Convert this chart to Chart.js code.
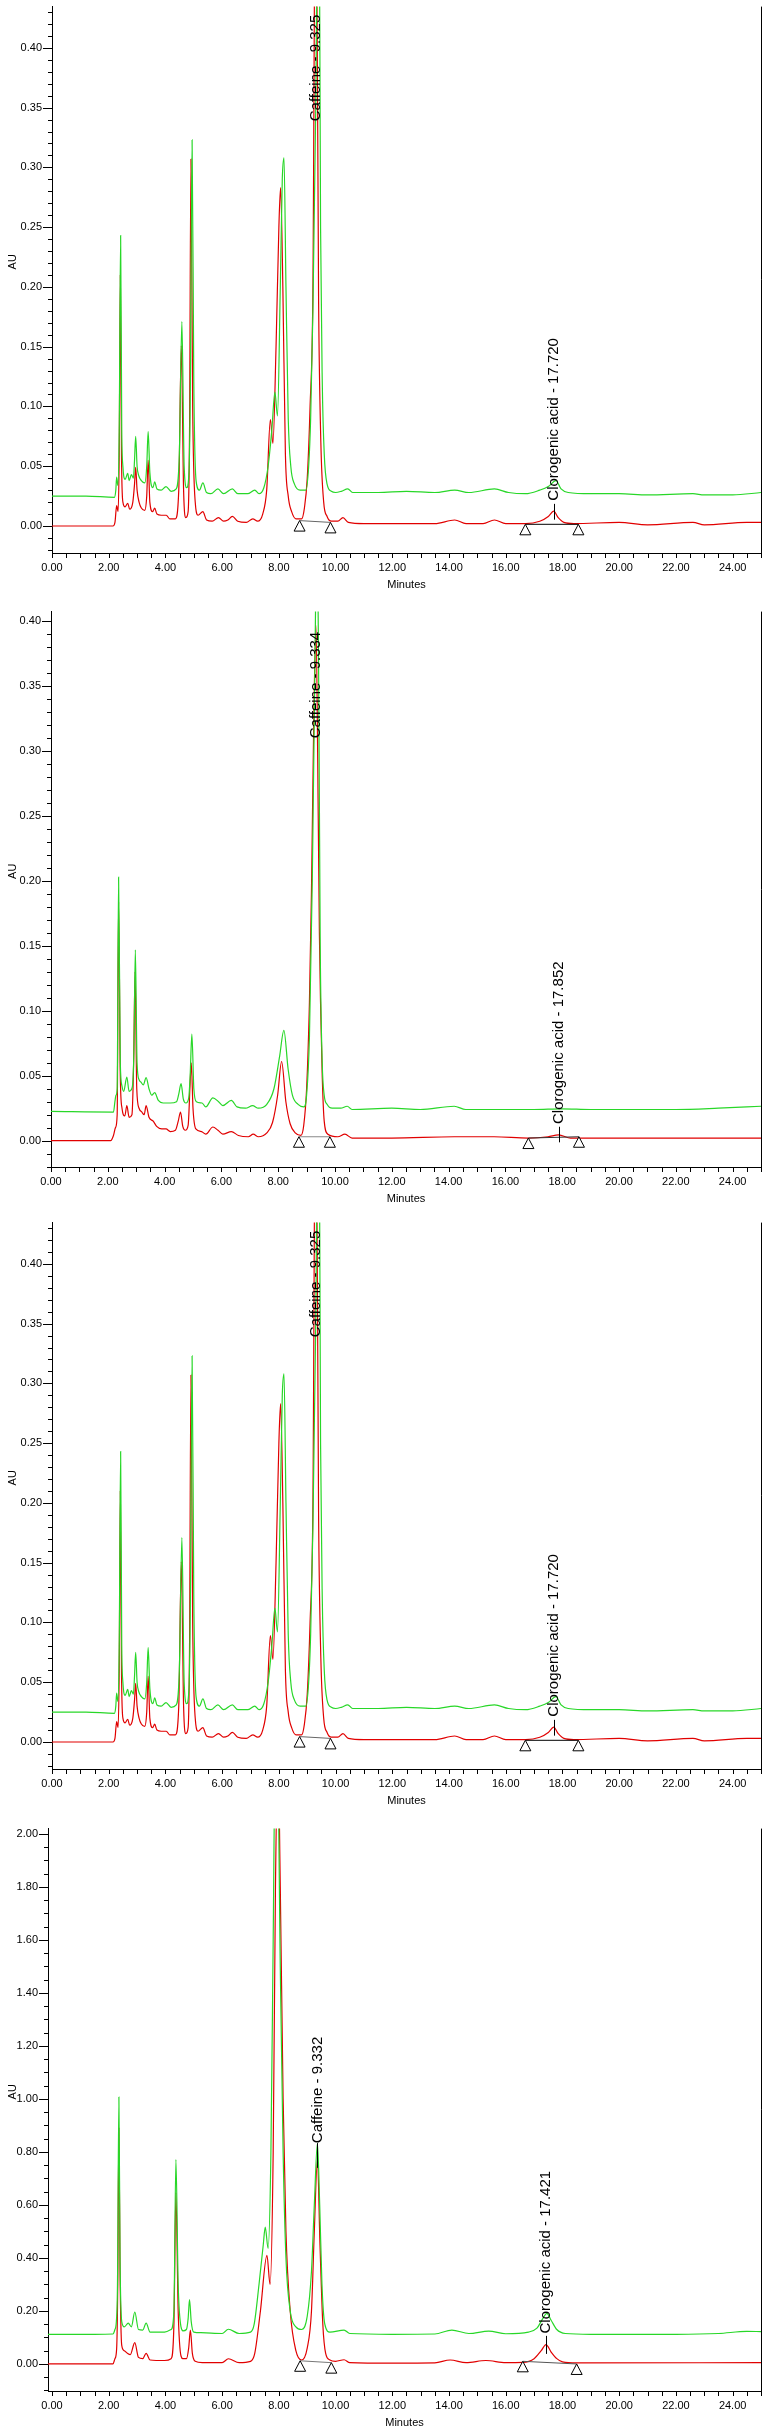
<!DOCTYPE html>
<html>
<head>
<meta charset="utf-8">
<script src="https://cdn.jsdelivr.net/npm/chart.js@4.4.1/dist/chart.umd.min.js"></script>
<style>
  html, body { margin: 0; padding: 0; background: #fff; }
  body { width: 780px; height: 2434px; position: relative; overflow: hidden; }
  canvas { position: absolute; left: 0; }
</style>
</head>
<body>
<canvas id="c1"></canvas>
<canvas id="c2"></canvas>
<canvas id="c3"></canvas>
<canvas id="c4"></canvas>
<script>
// chromatogram traces, [minutes, AU]
// sample A (shown in panels 1 and 3)
const sampleAGreen = [[0,0.025],[1.2,0.025],[2.2,0.024],[2.25,0.03],[2.28,0.041],[2.32,0.034],[2.37,0.08],[2.42,0.243],[2.46,0.08],[2.5,0.05],[2.58,0.039],[2.67,0.044],[2.72,0.038],[2.8,0.043],[2.87,0.04],[2.91,0.055],[2.95,0.075],[3.0,0.05],[3.06,0.042],[3.15,0.038],[3.27,0.036],[3.34,0.05],[3.39,0.079],[3.45,0.045],[3.56,0.032],[3.62,0.037],[3.7,0.031],[3.85,0.03],[4.02,0.033],[4.2,0.029],[4.38,0.031],[4.49,0.06],[4.58,0.171],[4.66,0.05],[4.75,0.032],[4.83,0.045],[4.88,0.12],[4.94,0.323],[5.0,0.12],[5.08,0.038],[5.2,0.03],[5.32,0.036],[5.45,0.028],[5.6,0.027],[5.85,0.031],[6.05,0.027],[6.36,0.031],[6.55,0.027],[6.9,0.027],[7.15,0.03],[7.3,0.027],[7.47,0.032],[7.62,0.05],[7.75,0.08],[7.86,0.112],[7.95,0.092],[8.05,0.2],[8.12,0.29],[8.18,0.308],[8.25,0.2],[8.33,0.09],[8.42,0.05],[8.55,0.035],[8.75,0.03],[8.95,0.03],[9.05,0.05],[9.12,0.09],[9.2,0.18],[9.3,0.35],[9.4,0.62],[9.47,0.25],[9.53,0.12],[9.6,0.06],[9.7,0.035],[9.85,0.029],[10.0,0.028],[10.2,0.029],[10.43,0.031],[10.6,0.028],[11.5,0.028],[12.5,0.029],[13.5,0.028],[14.2,0.03],[14.7,0.028],[15.6,0.031],[16.1,0.028],[16.7,0.027],[17.2,0.03],[17.5,0.033],[17.77,0.038],[17.95,0.031],[18.2,0.028],[19,0.027],[20,0.027],[21,0.026],[22.6,0.027],[23,0.026],[24,0.026],[25,0.028]];
const sampleARed = [[0,0],[1.5,0],[2.15,0],[2.22,0.003],[2.28,0.017],[2.33,0.012],[2.37,0.06],[2.41,0.21],[2.45,0.06],[2.5,0.02],[2.58,0.016],[2.67,0.019],[2.74,0.014],[2.85,0.02],[2.91,0.035],[2.95,0.049],[3.0,0.03],[3.07,0.02],[3.15,0.015],[3.27,0.013],[3.34,0.025],[3.39,0.055],[3.45,0.02],[3.55,0.012],[3.62,0.015],[3.7,0.01],[3.85,0.009],[4.03,0.009],[4.15,0.006],[4.35,0.006],[4.47,0.03],[4.56,0.151],[4.64,0.03],[4.72,0.007],[4.8,0.012],[4.85,0.08],[4.9,0.307],[4.96,0.1],[5.05,0.02],[5.15,0.009],[5.32,0.012],[5.45,0.005],[5.65,0.004],[5.87,0.007],[6.05,0.004],[6.2,0.005],[6.36,0.008],[6.55,0.004],[6.85,0.003],[7.08,0.006],[7.25,0.004],[7.43,0.01],[7.57,0.03],[7.7,0.089],[7.79,0.069],[7.9,0.15],[8.0,0.25],[8.06,0.283],[8.14,0.2],[8.23,0.06],[8.33,0.025],[8.45,0.012],[8.6,0.006],[8.8,0.006],[8.9,0.015],[9.0,0.04],[9.1,0.1],[9.2,0.2],[9.3,0.6],[9.4,0.19],[9.48,0.07],[9.58,0.02],[9.7,0.008],[9.85,0.004],[10.08,0.004],[10.26,0.007],[10.45,0.003],[11,0.002],[12,0.002],[13.5,0.002],[14.2,0.005],[14.6,0.002],[15.2,0.002],[15.6,0.005],[16.0,0.002],[16.7,0.002],[17.2,0.004],[17.5,0.008],[17.69,0.0124],[17.85,0.007],[18.05,0.003],[18.4,0.002],[20.0,0.003],[21,0.001],[22.6,0.003],[23,0.001],[24.5,0.003],[25,0.003]];
const sampleALabels = [
  { t: 9.29, au: 0.3386, text: 'Caffeine - 9.325' },
  { t: 17.69, au: 0.0212, text: 'Clorogenic acid - 17.720', stem: [0.0053, 0.0185] }
];
const sampleABases = [
  { from: [8.73, 0.0045], to: [9.82, 0.003], color: '#666' },
  { from: [16.69, 0.0014], to: [18.56, 0.0014], color: '#000' }
];

// sample B (panel 2)
const sampleBGreen = [[0,0.0225],[2.2,0.022],[2.25,0.03],[2.29,0.035],[2.33,0.04],[2.38,0.203],[2.44,0.06],[2.5,0.042],[2.56,0.038],[2.67,0.049],[2.75,0.038],[2.86,0.041],[2.92,0.07],[2.97,0.147],[3.03,0.06],[3.1,0.047],[3.17,0.045],[3.25,0.043],[3.35,0.0485],[3.45,0.04],[3.55,0.035],[3.65,0.037],[3.78,0.031],[3.95,0.029],[4.2,0.029],[4.42,0.03],[4.5,0.036],[4.58,0.044],[4.66,0.032],[4.75,0.029],[4.85,0.033],[4.9,0.05],[4.96,0.082],[5.03,0.04],[5.12,0.03],[5.32,0.029],[5.45,0.026],[5.7,0.033],[5.9,0.03],[6.05,0.027],[6.35,0.031],[6.55,0.026],[6.85,0.025],[7.1,0.027],[7.3,0.025],[7.6,0.028],[7.85,0.04],[8.05,0.065],[8.2,0.085],[8.35,0.055],[8.5,0.035],[8.7,0.028],[8.9,0.026],[9.0,0.035],[9.1,0.08],[9.2,0.2],[9.3,0.38],[9.37,0.5],[9.44,0.3],[9.48,0.15],[9.55,0.06],[9.62,0.035],[9.72,0.028],[9.9,0.025],[10.2,0.025],[10.43,0.0265],[10.6,0.024],[12,0.025],[13,0.024],[14.2,0.0265],[14.6,0.024],[16,0.024],[17,0.024],[18,0.0245],[19,0.024],[20,0.024],[22,0.024],[23.5,0.025],[25,0.0265]];
const sampleBRed = [[0,0],[2.1,0],[2.2,0.004],[2.27,0.01],[2.33,0.02],[2.38,0.184],[2.44,0.05],[2.5,0.025],[2.6,0.019],[2.67,0.027],[2.75,0.018],[2.85,0.02],[2.91,0.06],[2.96,0.13],[3.02,0.04],[3.1,0.025],[3.2,0.022],[3.28,0.02],[3.35,0.027],[3.45,0.018],[3.6,0.015],[3.72,0.011],[3.9,0.009],[4.05,0.009],[4.2,0.007],[4.38,0.008],[4.48,0.015],[4.56,0.022],[4.64,0.011],[4.73,0.008],[4.83,0.012],[4.9,0.045],[4.94,0.06],[5.0,0.025],[5.1,0.009],[5.3,0.007],[5.45,0.005],[5.7,0.0105],[5.88,0.008],[6.05,0.005],[6.35,0.007],[6.6,0.004],[6.95,0.003],[7.12,0.005],[7.3,0.003],[7.6,0.006],[7.8,0.014],[7.98,0.035],[8.12,0.061],[8.27,0.03],[8.42,0.013],[8.6,0.006],[8.8,0.004],[8.9,0.012],[9.0,0.04],[9.1,0.107],[9.17,0.19],[9.25,0.32],[9.33,0.397],[9.41,0.25],[9.45,0.16],[9.49,0.107],[9.55,0.05],[9.62,0.015],[9.75,0.005],[10.1,0.003],[10.35,0.005],[10.6,0.002],[12,0.002],[14.2,0.003],[15.6,0.003],[16.8,0.002],[17.5,0.003],[17.87,0.0045],[18.3,0.002],[20,0.002],[22.5,0.002],[25,0.002]];
const sampleBLabels = [
  { t: 9.32, au: 0.31, text: 'Caffeine - 9.334' },
  { t: 17.87, au: 0.0128, text: 'Clorogenic acid - 17.852', stem: [-0.0013, 0.0107] }
];
const sampleBBases = [
  { from: [8.73, 0.003], to: [9.82, 0.003], color: '#888' },
  { from: [16.81, 0.002], to: [18.59, 0.003], color: '#333' }
];

// sample C (panel 4)
const sampleCGreen = [[-0.14,0.112],[1.5,0.112],[2.15,0.113],[2.22,0.13],[2.27,0.16],[2.31,0.3],[2.36,1.007],[2.4,0.4],[2.46,0.16],[2.55,0.14],[2.69,0.154],[2.8,0.14],[2.92,0.196],[3.05,0.13],[3.2,0.128],[3.32,0.154],[3.46,0.12],[3.97,0.12],[4.2,0.13],[4.3,0.2],[4.37,0.771],[4.45,0.3],[4.55,0.14],[4.62,0.125],[4.74,0.13],[4.8,0.17],[4.85,0.243],[4.91,0.16],[5.0,0.12],[5.25,0.118],[6.0,0.115],[6.22,0.131],[6.6,0.115],[7.0,0.12],[7.13,0.15],[7.3,0.3],[7.45,0.45],[7.52,0.516],[7.62,0.436],[7.72,0.8],[7.8,1.6],[7.87,2.3],[7.95,2.3],[8.05,1.5],[8.15,0.8],[8.25,0.4],[8.4,0.2],[8.6,0.14],[8.8,0.13],[9.0,0.18],[9.15,0.35],[9.25,0.6],[9.36,0.833],[9.44,0.6],[9.52,0.3],[9.62,0.15],[9.8,0.12],[10.3,0.128],[10.5,0.115],[12,0.112],[13.5,0.113],[14.1,0.128],[14.7,0.115],[15.4,0.124],[16,0.114],[16.8,0.12],[17.1,0.135],[17.3,0.17],[17.45,0.191],[17.6,0.165],[17.8,0.13],[18.1,0.115],[19,0.112],[22,0.112],[23.5,0.115],[24.5,0.123],[25,0.122]];
const sampleCRed = [[-0.14,0],[2.15,0],[2.22,0.02],[2.28,0.057],[2.32,0.3],[2.36,0.889],[2.4,0.35],[2.46,0.07],[2.55,0.05],[2.66,0.04],[2.76,0.035],[2.92,0.0805],[3.05,0.025],[3.2,0.02],[3.32,0.04],[3.46,0.015],[3.97,0.013],[4.2,0.02],[4.3,0.15],[4.37,0.647],[4.45,0.2],[4.55,0.03],[4.62,0.02],[4.74,0.02],[4.82,0.06],[4.88,0.128],[4.95,0.04],[5.05,0.01],[5.3,0.005],[6.0,0.005],[6.22,0.0196],[6.6,0.005],[7.0,0.01],[7.15,0.04],[7.35,0.2],[7.58,0.41],[7.69,0.3],[7.8,0.8],[7.88,1.8],[7.97,2.3],[8.05,1.8],[8.15,1.0],[8.25,0.5],[8.4,0.2],[8.6,0.05],[8.8,0.015],[9.0,0.06],[9.15,0.2],[9.25,0.5],[9.36,0.771],[9.45,0.45],[9.55,0.15],[9.65,0.04],[9.8,0.015],[10.0,0.01],[10.3,0.016],[10.5,0.005],[12,0.003],[13.5,0.004],[14.04,0.015],[14.6,0.005],[15.3,0.013],[16,0.005],[16.6,0.006],[17.0,0.02],[17.25,0.05],[17.42,0.073],[17.6,0.045],[17.8,0.02],[18.0,0.008],[18.5,0.004],[25,0.005]];
const sampleCLabels = [
  { t: 9.36, au: 0.833, text: 'Caffeine - 9.332', stem: [0.74, 0.833] },
  { t: 17.42, au: 0.115, text: 'Clorogenic acid - 17.421', stem: [0.038, 0.106] }
];
const sampleCBases = [
  { from: [8.75, 0.012], to: [9.85, 0.005], color: '#777' },
  { from: [16.6, 0.01], to: [18.5, 0.0], color: '#555' }
];

// axis ticks
const minuteTicks = [];
for (let m = 0; m <= 25; m += 0.5) minuteTicks.push(m);
const minuteLabelStep = 2;

const greenColor = 'rgb(40,215,40)';
const redColor = 'rgb(225,0,0)';
const fontFamily = '"Liberation Sans", Arial, sans-serif';

const panels = [
  { canvas: 'c1', top: 0, bottom: 553, left: 52, xMin: 0, yMin: -0.0226, yMax: 0.4345, auMajor: 0.05, auMinor: 0.01,
    green: sampleAGreen, red: sampleARed, labels: sampleALabels, bases: sampleABases },
  { canvas: 'c2', top: 605, bottom: 1167, left: 51, xMin: 0, yMin: -0.0203, yMax: 0.4076, auMajor: 0.05, auMinor: 0.01,
    green: sampleBGreen, red: sampleBRed, labels: sampleBLabels, bases: sampleBBases },
  { canvas: 'c3', top: 1216, bottom: 1769, left: 52, xMin: 0, yMin: -0.0226, yMax: 0.4345, auMajor: 0.05, auMinor: 0.01,
    green: sampleAGreen, red: sampleARed, labels: sampleALabels, bases: sampleABases },
  { canvas: 'c4', top: 1822, bottom: 2391, left: 48, xMin: -0.14, yMin: -0.102, yMax: 2.02, auMajor: 0.2, auMinor: 0.05,
    green: sampleCGreen, red: sampleCRed, labels: sampleCLabels, bases: sampleCBases }
];

function isMajor(v, step) {
  return Math.abs(v / step - Math.round(v / step)) < 1e-6;
}

function auTicks(p) {
  const out = [];
  const n0 = Math.ceil(p.yMin / p.auMinor - 1e-9);
  const n1 = Math.floor(p.yMax / p.auMinor + 1e-9);
  for (let i = n0; i <= n1; i++) out.push(+(i * p.auMinor).toFixed(4));
  return out;
}

function chromPlugin(p) {
  return {
    id: 'chrom',
    afterDraw(chart) {
      const ctx = chart.ctx;
      const xs = chart.scales.x, ys = chart.scales.y, a = chart.chartArea;
      ctx.save();
      ctx.strokeStyle = '#000';
      ctx.lineWidth = 1;

      // right frame line
      ctx.beginPath();
      ctx.moveTo(Math.round(a.right) + 0.5, a.top);
      ctx.lineTo(Math.round(a.right) + 0.5, a.bottom);
      ctx.stroke();

      // tick marks
      ctx.beginPath();
      ys.ticks.forEach(t => {
        const y = Math.round(ys.getPixelForValue(t.value)) + 0.5;
        const len = isMajor(t.value, p.auMajor) ? 9 : 4;
        ctx.moveTo(a.left - len, y);
        ctx.lineTo(a.left, y);
      });
      xs.ticks.forEach(t => {
        const x = Math.round(xs.getPixelForValue(t.value)) + 0.5;
        ctx.moveTo(x, a.bottom);
        ctx.lineTo(x, a.bottom + 5);
      });
      ctx.stroke();

      // AU title
      ctx.fillStyle = '#000';
      ctx.font = '11px ' + fontFamily;
      ctx.save();
      ctx.translate(13, (a.top + a.bottom) / 2 - 18);
      ctx.rotate(-Math.PI / 2);
      ctx.textAlign = 'center';
      ctx.textBaseline = 'middle';
      ctx.fillText('AU', 0, 0);
      ctx.restore();

      // integration baselines with drop triangles
      p.bases.forEach(b => {
        const x1 = xs.getPixelForValue(b.from[0]), y1 = ys.getPixelForValue(b.from[1]);
        const x2 = xs.getPixelForValue(b.to[0]), y2 = ys.getPixelForValue(b.to[1]);
        ctx.strokeStyle = b.color;
        ctx.beginPath();
        ctx.moveTo(x1, y1);
        ctx.lineTo(x2, y2);
        ctx.stroke();
        ctx.strokeStyle = '#000';
        [[x1, y1], [x2, y2]].forEach(([x, y]) => {
          ctx.beginPath();
          ctx.moveTo(x, y);
          ctx.lineTo(x - 5.5, y + 10.5);
          ctx.lineTo(x + 5.5, y + 10.5);
          ctx.closePath();
          ctx.fillStyle = '#fff';
          ctx.fill();
          ctx.stroke();
        });
      });

      // peak names
      ctx.fillStyle = '#000';
      ctx.strokeStyle = '#000';
      ctx.font = '15px ' + fontFamily;
      p.labels.forEach(l => {
        const x = xs.getPixelForValue(l.t);
        if (l.stem) {
          ctx.beginPath();
          ctx.moveTo(Math.round(x) + 0.5, ys.getPixelForValue(l.stem[0]));
          ctx.lineTo(Math.round(x) + 0.5, ys.getPixelForValue(l.stem[1]));
          ctx.stroke();
        }
        ctx.save();
        ctx.translate(x, ys.getPixelForValue(l.au));
        ctx.rotate(-Math.PI / 2);
        ctx.textAlign = 'left';
        ctx.textBaseline = 'middle';
        ctx.fillText(l.text, 0, 0);
        ctx.restore();
      });
      ctx.restore();
    }
  };
}

const padTop = 10, axisH = 46;

panels.forEach(p => {
  const cv = document.getElementById(p.canvas);
  cv.width = 780;
  cv.height = p.bottom - p.top + padTop + axisH;
  cv.style.top = (p.top - padTop) + 'px';
  const yTicks = auTicks(p);

  new Chart(cv, {
    type: 'line',
    data: {
      datasets: [
        { data: p.green.map(([x, y]) => ({ x, y })), borderColor: greenColor, borderWidth: 1.2, pointRadius: 0, cubicInterpolationMode: 'monotone', clip: 0 },
        { data: p.red.map(([x, y]) => ({ x, y })), borderColor: redColor, borderWidth: 1.2, pointRadius: 0, cubicInterpolationMode: 'monotone', clip: 0 }
      ]
    },
    options: {
      responsive: false,
      animation: false,
      events: [],
      layout: { padding: { top: padTop, right: 780 - 761, left: 0, bottom: 0 } },
      plugins: { legend: { display: false }, tooltip: { enabled: false } },
      scales: {
        x: {
          type: 'linear', min: p.xMin, max: 25,
          afterBuildTicks: s => { s.ticks = minuteTicks.map(v => ({ value: v })); },
          afterFit: s => { s.height = axisH; },
          grid: { display: false, drawTicks: false },
          border: { display: true, color: '#000', width: 1 },
          ticks: {
            autoSkip: false, maxRotation: 0, minRotation: 0, padding: 8, color: '#000',
            font: { size: 11, family: fontFamily },
            callback: v => isMajor(v, minuteLabelStep) ? v.toFixed(2) : ''
          },
          title: { display: true, text: 'Minutes', color: '#000', font: { size: 11, family: fontFamily }, padding: { top: 0, bottom: 7 } }
        },
        y: {
          type: 'linear', min: p.yMin, max: p.yMax,
          afterBuildTicks: s => { s.ticks = yTicks.map(v => ({ value: v })); },
          afterFit: s => { s.width = p.left; },
          grid: { display: false, drawTicks: false },
          border: { display: true, color: '#000', width: 1 },
          ticks: {
            autoSkip: false, padding: 10, color: '#000',
            font: { size: 11, family: fontFamily },
            callback: v => isMajor(v, p.auMajor) ? v.toFixed(2) : ''
          }
        }
      }
    },
    plugins: [chromPlugin(p)]
  });
});
</script>
</body>
</html>
